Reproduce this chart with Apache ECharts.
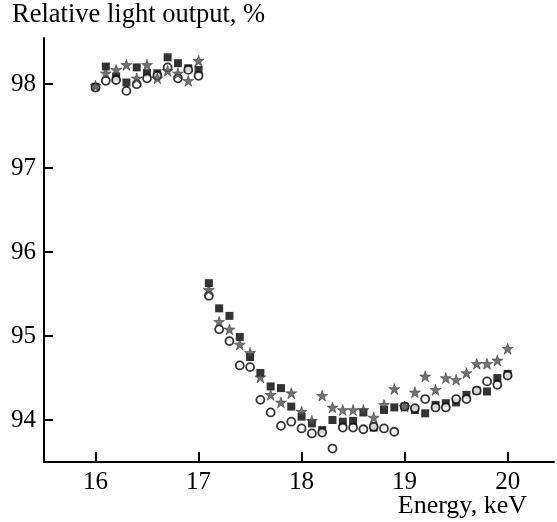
<!DOCTYPE html>
<html><head><meta charset="utf-8">
<script src="https://cdn.jsdelivr.net/npm/echarts@6/dist/echarts.min.js"></script>
<style>html,body{margin:0;padding:0;background:#fff}#c{width:557px;height:522px}</style>
</head><body><div id="c"></div>
<script>
const energy = [16.0,16.1,16.2,16.3,16.4,16.5,16.6,16.7,16.8,16.9,17.0,
  17.1,17.2,17.3,17.4,17.5,17.6,17.7,17.8,17.9,18.0,18.1,18.2,18.3,18.4,18.5,18.6,18.7,18.8,18.9,
  19.0,19.1,19.2,19.3,19.4,19.5,19.6,19.7,19.8,19.9,20.0];
const squares = [97.97,98.21,98.09,98.02,98.20,98.13,98.13,98.32,98.25,98.19,98.17,
  95.63,95.33,95.24,94.99,94.75,94.56,94.40,94.38,94.16,94.04,93.96,93.88,94.00,93.98,93.99,94.09,93.91,94.12,94.15,
  94.16,94.12,94.08,94.18,94.20,94.21,94.30,94.35,94.34,94.50,94.55];
const circles = [97.96,98.04,98.05,97.92,98.00,98.07,98.10,98.20,98.07,98.17,98.10,
  95.48,95.08,94.94,94.65,94.63,94.24,94.09,93.93,93.98,93.90,93.84,93.85,93.66,93.91,93.91,93.89,93.92,93.90,93.86,
  94.16,94.14,94.25,94.15,94.15,94.25,94.25,94.35,94.46,94.42,94.53];
const stars = [97.98,98.13,98.17,98.23,98.07,98.23,98.07,98.16,98.13,98.04,98.28,
  95.55,95.17,95.08,94.90,94.80,94.51,94.30,94.21,94.32,94.10,93.99,94.29,94.15,94.12,94.12,94.12,94.03,94.18,94.37,
  94.16,94.33,94.52,94.36,94.50,94.48,94.56,94.67,94.67,94.71,94.85];
const xTicks = [16,17,18,19,20];
const yTicks = [94,95,96,97,98];
const yTitle = 'Relative light output, %';
const xTitle = 'Energy, keV';

const FONT = 'Liberation Serif';
const pairs = v => energy.map((e,i)=>[e,v[i]]);
const STAR = 'path://M50,0 L61.8,35.5 L99,35.5 L69,57.5 L80.5,93 L50,71 L19.5,93 L31,57.5 L1,35.5 L38.2,35.5 Z';

const chart = echarts.init(document.getElementById('c'), null, {renderer:'canvas'});
chart.setOption({
  animation:false,
  backgroundColor:'#fff',
  grid:{left:44, right:3, top:38, bottom:60, containLabel:false},
  xAxis:{type:'value', min:15.5, max:20.45,
    axisLine:{show:true, onZero:false, lineStyle:{color:'#000', width:2}},
    axisTick:{show:true, inside:true, length:10, customValues:xTicks, lineStyle:{color:'#000', width:2}},
    axisLabel:{customValues:xTicks, color:'#000', fontFamily:FONT, fontSize:25, margin:8},
    splitLine:{show:false}},
  yAxis:{type:'value', min:93.5, max:98.55,
    axisLine:{show:true, onZero:false, lineStyle:{color:'#000', width:2}},
    axisTick:{show:true, inside:true, length:9, customValues:yTicks, lineStyle:{color:'#000', width:2}},
    axisLabel:{customValues:yTicks, color:'#000', fontFamily:FONT, fontSize:25, margin:8},
    splitLine:{show:false}},
  graphic:[
    {type:'text', left:12, top:2, style:{text:yTitle, fontFamily:FONT, fontSize:26.5, fill:'#000'}},
    {type:'text', right:30, top:493, style:{text:xTitle, fontFamily:FONT, fontSize:26, fill:'#000'}}
  ],
  series:[
    {type:'scatter', name:'squares', data:pairs(squares), symbol:'rect', symbolSize:8,
      itemStyle:{color:'#000'}, z:2},
    {type:'scatter', name:'circles', data:pairs(circles), symbol:'circle', symbolSize:8,
      itemStyle:{color:'#fff', borderColor:'#000', borderWidth:1.8}, z:3},
    {type:'scatter', name:'stars', data:pairs(stars), symbol:STAR, symbolSize:11,
      itemStyle:{color:'#505050', borderColor:'#222', borderWidth:0.6}, z:4}
  ]
});
</script></body></html>
